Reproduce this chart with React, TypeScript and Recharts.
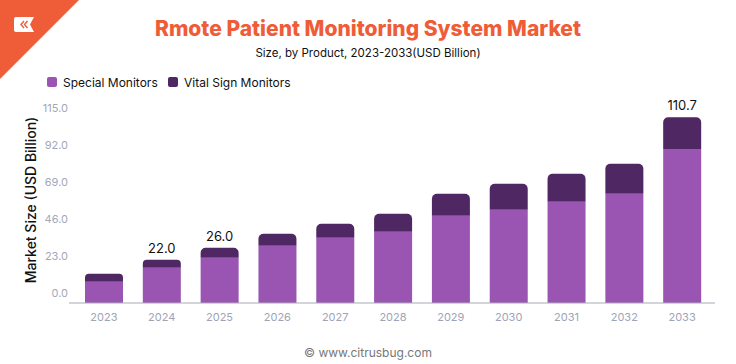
import React from 'react';
import { BarChart, Bar, XAxis, YAxis, LabelList } from 'recharts';

const years = ['2023', '2024', '2025', '2026', '2027', '2028', '2029', '2030', '2031', '2032', '2033'];
const specialMonitors = [12.7, 21.0, 27.0, 34.1, 38.9, 42.4, 52.0, 55.5, 60.3, 65.1, 91.8];
const vitalSignMonitors = [4.7, 4.8, 5.9, 7.2, 8.3, 10.8, 13.1, 15.5, 16.7, 17.8, 18.9];
const totalLabels = ['', '22.0', '26.0', '', '', '', '', '', '', '', '110.7'];
const yTicks = [0, 23, 46, 69, 92, 115];

const data = years.map((y, i) => ({
  year: y,
  special: specialMonitors[i],
  vital: vitalSignMonitors[i],
  label: totalLabels[i],
}));

const FONT = 'Inter, "Noto Sans", sans-serif';
const SPECIAL = '#9955b1';
const VITAL = '#4f2762';
const ORANGE = '#ef5c38';

const YTick = (props: any) => {
  const { x, y, payload } = props;
  const v = payload.value as number;
  const off = -10.3 + 0.075 * v;
  return (
    <text x={x} y={y + off} dy="0.35em" textAnchor="end" fill="#a3a7ba" fontSize={11} fontFamily={FONT}>
      {v.toFixed(1)}
    </text>
  );
};

const TopLabel = (props: any) => {
  const { x, y, width, index } = props;
  const t = totalLabels[index];
  if (!t) return null;
  return (
    <text x={x + width / 2} y={y - 12} dominantBaseline="central" textAnchor="middle" fill="#111" fontSize={13} fontFamily={FONT}>
      {t}
    </text>
  );
};

export default function App() {
  return (
    <div style={{ position: 'absolute', left: 0, top: 0, width: 736, height: 364, background: '#fff', fontFamily: FONT }}>
      <BarChart width={736} height={364} data={data} margin={{ top: 110, right: 21, bottom: 31, left: 0 }}>
        <XAxis
          dataKey="year"
          padding={{ left: 6, right: 4 }}
          tickLine={false}
          tickSize={0}
          tickMargin={10}
          axisLine={{ stroke: '#a9abb8', strokeWidth: 1.2 }}
          tick={{ fill: '#9ea3b6', fontSize: 11, fontFamily: FONT }}
          height={30}
        />
        <YAxis
          domain={[0, 115]}
          ticks={yTicks}
          width={69}
          axisLine={false}
          tickLine={false}
          tickSize={0}
          tickMargin={1}
          tick={<YTick />}
        />
        <Bar dataKey="special" stackId="a" fill={SPECIAL} barSize={38} isAnimationActive={false} />
        <Bar dataKey="vital" stackId="a" fill={VITAL} barSize={38} radius={[5, 5, 0, 0]} isAnimationActive={false}>
          <LabelList dataKey="label" content={<TopLabel />} />
        </Bar>
      </BarChart>
      <svg width={736} height={364} style={{ position: 'absolute', left: 0, top: 0, pointerEvents: 'none' }}>
        <polygon points="0,0 79,0 0,79" fill={ORANGE} />
        <path d="M16,17 L34,17 L30,24.5 L34,32 L16,32 Q14,32 14,30 L14,19 Q14,17 16,17 Z" fill="#fff" />
        <path d="M24,21 L21,24.5 L24,28 M27.5,21 L24.5,24.5 L27.5,28" stroke={ORANGE} strokeWidth={1.4} fill="none" />
        <text x={368} y={28} textAnchor="middle" dominantBaseline="central" fill={ORANGE} fontSize={21} fontWeight={800} fontFamily={FONT}>
          Rmote Patient Monitoring System Market
        </text>
        <text x={368} y={53} textAnchor="middle" dominantBaseline="central" fill="#111" fontSize={11.5} fontFamily={FONT}>
          Size, by Product, 2023-2033(USD Billion)
        </text>
        <rect x={47} y={77} width={10} height={10} rx={2} fill={SPECIAL} />
        <text x={63} y={82} dominantBaseline="central" fill="#111" fontSize={12} fontFamily={FONT}>Special Monitors</text>
        <rect x={168} y={77} width={10} height={10} rx={2} fill={VITAL} />
        <text x={184} y={82} dominantBaseline="central" fill="#111" fontSize={12} fontFamily={FONT}>Vital Sign Monitors</text>
        <text
          x={30}
          y={200}
          transform="rotate(-90 30 200)"
          textAnchor="middle"
          dominantBaseline="central"
          fill="#111"
          fontSize={14}
          fontWeight={500}
          fontFamily={FONT}
        >
          Market Size (USD Billion)
        </text>
        <text x={368} y={352} textAnchor="middle" dominantBaseline="central" fill="#777" fontSize={12} fontFamily={FONT}>
          © www.citrusbug.com
        </text>
      </svg>
    </div>
  );
}
